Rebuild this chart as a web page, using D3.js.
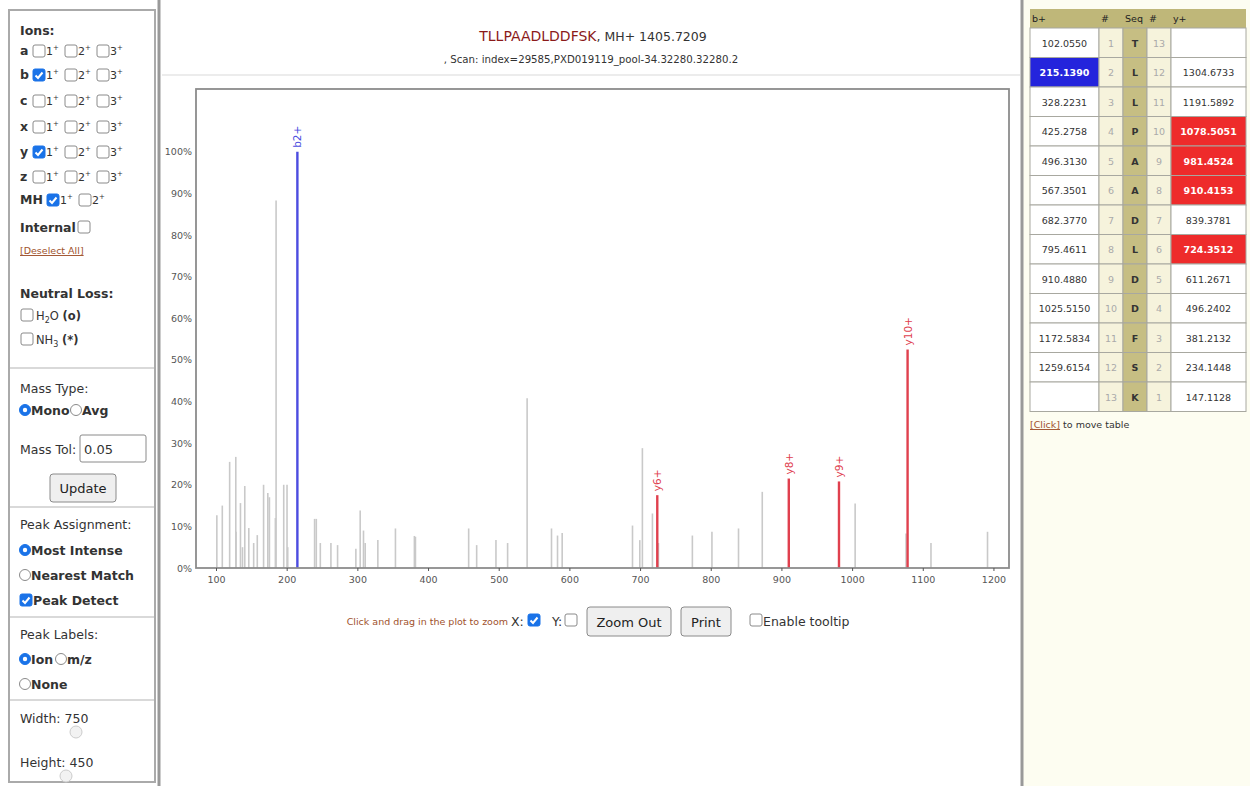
<!DOCTYPE html>
<html lang="en">
<head>
<meta charset="UTF-8">
<title>Lorikeet spectrum</title>
<script src="https://cdn.jsdelivr.net/npm/d3@7/dist/d3.min.js"></script>
<style>
  html, body { margin: 0; padding: 0; background: #fff; }
  svg { display: block; font-family: "DejaVu Sans", sans-serif; }
</style>
</head>
<body>
<svg id="page" width="1250" height="786"></svg>
<script>
// ---- data ----
const peptide = "TLLPAADLDDFSK";
const precursorMH = "1405.7209";
const scanInfo = ", Scan: index=29585,PXD019119_pool-34.32280.32280.2";

// unassigned peaks (m/z, relative intensity %)
const peakMz = [101.2, 108.9, 119.3, 128.0, 128.4, 134.6, 137.5, 140.7, 146.4, 153.3,
  158.4, 167.3, 173.3, 175.6, 184.0, 185.0, 195.8, 200.5, 201.5, 239.5,
  241.9, 247.6, 262.6, 272.0, 297.9, 304.0, 308.7, 311.1, 329.0, 353.9,
  380.7, 382.2, 457.5, 468.8, 496.1, 512.6, 540.2, 574.7, 583.2, 589.8,
  689.3, 699.6, 703.3, 717.5, 726.0, 774.0, 801.7, 839.3, 872.9, 1004.3,
  1076.3, 1111.6, 1191.6];
const peakInt = [12.7, 15.0, 25.5, 26.7, 8.7, 15.6, 5.0, 19.7, 9.6, 6.0,
  7.9, 20.0, 18.0, 17.0, 12.0, 88.3, 20.0, 20.0, 5.0, 11.8,
  11.8, 6.0, 6.0, 5.5, 4.6, 13.8, 9.0, 6.0, 6.7, 9.5,
  7.7, 7.5, 9.5, 5.5, 6.7, 6.0, 40.8, 9.5, 7.8, 8.4,
  10.2, 6.7, 28.8, 13.1, 6.0, 7.8, 8.7, 9.5, 18.3, 15.5,
  8.3, 6.0, 8.7];

// assigned fragment ions
const ionLabels = ["b2+", "y6+", "y8+", "y9+", "y10+"];
const ionTypes = ["b", "y", "y", "y", "y"];
const ionMz = [215.1390, 724.3512, 910.4153, 981.4524, 1078.5051];
const ionInt = [100, 17.5, 21.5, 20.8, 52.5];

const xTicks = [100, 200, 300, 400, 500, 600, 700, 800, 900, 1000, 1100, 1200];
const yTicks = [0, 10, 20, 30, 40, 50, 60, 70, 80, 90, 100];

// fragment table
const residues = peptide.split("");
const bIons = ["102.0550", "215.1390", "328.2231", "425.2758", "496.3130", "567.3501", "682.3770",
  "795.4611", "910.4880", "1025.5150", "1172.5834", "1259.6154", ""];
const yIons = ["", "1304.6733", "1191.5892", "1078.5051", "981.4524", "910.4153", "839.3781",
  "724.3512", "611.2671", "496.2402", "381.2132", "234.1448", "147.1128"];

const svg = d3.select("#page");

// ---- little form widgets ----
function checkbox(g, x, y, checked) {
  g.append("rect").attr("x", x).attr("y", y).attr("width", 12).attr("height", 12)
    .attr("rx", 2).attr("fill", checked ? "#1a73e8" : "#fff")
    .attr("stroke", checked ? "#1a73e8" : "#8a8a8a").attr("stroke-width", 1);
  if (checked) {
    g.append("path").attr("d", `M${x + 2.5},${y + 6.5} L${x + 5},${y + 9} L${x + 9.5},${y + 3.5}`)
      .attr("fill", "none").attr("stroke", "#fff").attr("stroke-width", 2);
  }
}
function radio(g, x, y, checked) {
  g.append("circle").attr("cx", x + 6).attr("cy", y + 6).attr("r", 5.5)
    .attr("fill", checked ? "#1a73e8" : "#fff")
    .attr("stroke", checked ? "#1a73e8" : "#8a8a8a");
  if (checked) g.append("circle").attr("cx", x + 6).attr("cy", y + 6).attr("r", 2.2).attr("fill", "#fff");
}
function label(g, x, y, txt, opts = {}) {
  return g.append("text").attr("x", x).attr("y", y)
    .attr("font-size", opts.size || 12.5)
    .attr("font-weight", opts.bold ? "bold" : "normal")
    .attr("fill", opts.color || "#333")
    .attr("text-anchor", opts.anchor || "start")
    .text(txt);
}
function button(g, x, y, w, h, txt) {
  g.append("rect").attr("x", x).attr("y", y).attr("width", w).attr("height", h)
    .attr("rx", 3).attr("fill", "#efefef").attr("stroke", "#8a8a8a");
  label(g, x + w / 2, y + h / 2 + 5, txt, { anchor: "middle", size: 13, color: "#222" });
}

// ---- left options panel ----
const left = svg.append("g");
left.append("rect").attr("x", 9).attr("y", 10).attr("width", 146).attr("height", 772)
  .attr("fill", "#fff").attr("stroke", "#aaa").attr("stroke-width", 2);
left.append("line").attr("x1", 159).attr("x2", 159).attr("y1", 0).attr("y2", 786)
  .attr("stroke", "#999").attr("stroke-width", 3);
[368, 507, 617, 700].forEach(y => {
  left.append("line").attr("x1", 10).attr("x2", 154).attr("y1", y).attr("y2", y)
    .attr("stroke", "#ccc").attr("stroke-width", 1.5);
});

label(left, 20, 35, "Ions:", { bold: true });
const ionRows = ["a", "b", "c", "x", "y", "z"];
const ionRowY = [50, 74, 100, 126, 151, 176];
const ionChecked = { b: 0, y: 0 };
ionRows.forEach((ion, i) => {
  const y = ionRowY[i];
  label(left, 20, y + 5, ion, { bold: true });
  [1, 2, 3].forEach((c, j) => {
    const bx = 33 + j * 32;
    checkbox(left, bx, y - 5, ionChecked[ion] === j);
    const t = label(left, bx + 13, y + 5, String(c), { size: 11 });
    t.append("tspan").attr("dy", -5).attr("font-size", 7).text("+");
  });
});
label(left, 20, 204, "MH", { bold: true });
[1, 2].forEach((c, j) => {
  const bx = 47 + j * 32;
  checkbox(left, bx, 194, j === 0);
  const t = label(left, bx + 13, 204, String(c), { size: 11 });
  t.append("tspan").attr("dy", -5).attr("font-size", 7).text("+");
});
label(left, 20, 232, "Internal", { bold: true });
checkbox(left, 78, 221, false);
label(left, 20, 254, "[Deselect All]", { size: 9.5, color: "#a0522d" })
  .attr("text-decoration", "underline");

label(left, 20, 298, "Neutral Loss:", { bold: true });
checkbox(left, 21, 309, false);
const h2o = label(left, 36, 320, "H", { size: 11.5 });
h2o.append("tspan").attr("dy", 3).attr("font-size", 8).text("2");
h2o.append("tspan").attr("dy", -3).text("O ");
h2o.append("tspan").attr("font-weight", "bold").text("(o)");
checkbox(left, 21, 333, false);
const nh3 = label(left, 36, 344, "NH", { size: 11.5 });
nh3.append("tspan").attr("dy", 3).attr("font-size", 8).text("3");
nh3.append("tspan").attr("dy", -3).text(" ");
nh3.append("tspan").attr("font-weight", "bold").text("(*)");

label(left, 20, 393, "Mass Type:");
radio(left, 19, 404, true);
label(left, 31, 415, "Mono", { bold: true });
radio(left, 70, 404, false);
label(left, 82, 415, "Avg", { bold: true });
label(left, 20, 454, "Mass Tol:");
left.append("rect").attr("x", 80).attr("y", 435).attr("width", 66).attr("height", 27)
  .attr("rx", 2).attr("fill", "#fff").attr("stroke", "#8a8a8a");
label(left, 84, 454, "0.05", { size: 13 });
button(left, 50, 474, 66, 28, "Update");

label(left, 20, 529, "Peak Assignment:");
radio(left, 19, 544, true);
label(left, 31, 555, "Most Intense", { bold: true });
radio(left, 19, 569, false);
label(left, 31, 580, "Nearest Match", { bold: true });
checkbox(left, 20, 594, true);
label(left, 33, 605, "Peak Detect", { bold: true });

label(left, 20, 639, "Peak Labels:");
radio(left, 19, 653, true);
label(left, 31, 664, "Ion", { bold: true });
radio(left, 55, 653, false);
label(left, 67, 664, "m/z", { bold: true });
radio(left, 19, 678, false);
label(left, 31, 689, "None", { bold: true });

label(left, 20, 723, "Width: 750");
left.append("circle").attr("cx", 76).attr("cy", 732).attr("r", 6).attr("fill", "#f2f2f2").attr("stroke", "#ccc");
label(left, 20, 767, "Height: 450");
left.append("circle").attr("cx", 66).attr("cy", 776).attr("r", 6).attr("fill", "#f2f2f2").attr("stroke", "#ccc");

// ---- title ----
const main = svg.append("g");
const title = main.append("text").attr("x", 593).attr("y", 41).attr("text-anchor", "middle").attr("font-size", 14);
title.append("tspan").attr("fill", "#8b1a1a").text(peptide);
title.append("tspan").attr("fill", "#333").attr("font-size", 12.5).text(", MH+ " + precursorMH);
main.append("text").attr("x", 591).attr("y", 63).attr("text-anchor", "middle")
  .attr("font-size", 10.2).attr("fill", "#333").text(scanInfo);
main.append("line").attr("x1", 162).attr("x2", 1020).attr("y1", 75).attr("y2", 75)
  .attr("stroke", "#e6e6e6").attr("stroke-width", 1.5);

// ---- spectrum plot ----
const plot = { left: 196, top: 89, right: 1009, bottom: 568 };
const x = d3.scaleLinear().domain([71.7, 1222]).range([plot.left, plot.right]);
const y = d3.scaleLinear().domain([0, 115.1]).range([plot.bottom, plot.top]);

const pg = main.append("g");
const grey = peakMz.map((m, i) => ({ mz: m, int: peakInt[i] }));
pg.selectAll("line.peak").data(grey).join("line")
  .attr("class", "peak")
  .attr("x1", d => x(d.mz)).attr("x2", d => x(d.mz))
  .attr("y1", y(0)).attr("y2", d => y(d.int))
  .attr("stroke", "#c9c9c9").attr("stroke-width", 1.6);

const ionColor = { b: "#4c4ce0", y: "#e0404e" };
const ions = ionMz.map((m, i) => ({ mz: m, int: ionInt[i], label: ionLabels[i], type: ionTypes[i] }));
pg.selectAll("line.ion").data(ions).join("line")
  .attr("class", "ion")
  .attr("x1", d => x(d.mz)).attr("x2", d => x(d.mz))
  .attr("y1", y(0)).attr("y2", d => y(d.int))
  .attr("stroke", d => ionColor[d.type]).attr("stroke-width", 2.4);
pg.selectAll("text.ion").data(ions).join("text")
  .attr("class", "ion")
  .attr("transform", d => `translate(${x(d.mz) + 4},${y(d.int) - 4}) rotate(-90)`)
  .attr("font-size", 10.5).attr("fill", d => ionColor[d.type])
  .text(d => d.label);

main.append("rect").attr("x", plot.left).attr("y", plot.top)
  .attr("width", plot.right - plot.left).attr("height", plot.bottom - plot.top)
  .attr("fill", "none").attr("stroke", "#8c8c8c").attr("stroke-width", 1.8);

const xAxis = main.append("g").attr("transform", `translate(0,${plot.bottom})`)
  .call(d3.axisBottom(x).tickValues(xTicks).tickSize(3).tickPadding(5).tickFormat(d3.format("d")));
const yAxis = main.append("g").attr("transform", `translate(${plot.left - 2},0)`)
  .call(d3.axisLeft(y).tickValues(yTicks).tickSize(0).tickPadding(2).tickFormat(d => d + "%"));
[xAxis, yAxis].forEach(a => {
  a.select(".domain").remove();
  a.selectAll("text").attr("fill", "#555").attr("font-size", 9.5)
    .attr("font-family", "DejaVu Sans, sans-serif");
  a.selectAll("line").attr("stroke", "#555");
});

// ---- zoom controls under the plot ----
label(main, 508, 625, "Click and drag in the plot to zoom", { size: 9.5, color: "#a0522d", anchor: "end" });
label(main, 511, 626, "X:", { size: 12.5 });
checkbox(main, 528, 614, true);
label(main, 552, 626, "Y:", { size: 12.5 });
checkbox(main, 565, 614, false);
button(main, 587, 607, 84, 29, "Zoom Out");
button(main, 681, 607, 50, 29, "Print");
checkbox(main, 750, 614, false);
label(main, 763, 626, "Enable tooltip", { size: 12.5 });

// ---- fragment ion table ----
const right = svg.append("g");
right.append("rect").attr("x", 1023).attr("y", 0).attr("width", 227).attr("height", 786).attr("fill", "#fdfdf1");
right.append("line").attr("x1", 1022).attr("x2", 1022).attr("y1", 0).attr("y2", 786)
  .attr("stroke", "#999").attr("stroke-width", 3);

const colX = [1030, 1099, 1123, 1147, 1171, 1246];
const headTop = 9, headH = 19, rowH = 29.5;
const rowTop = headTop + headH;
right.append("rect").attr("x", colX[0]).attr("y", headTop).attr("width", colX[5] - colX[0])
  .attr("height", headH).attr("fill", "#bfb779");
["b+", "#", "Seq", "#", "y+"].forEach((h, i) => {
  label(right, colX[i] + 2, headTop + 13, h, { size: 9.5, color: "#222" });
});
const yMatched = new Set(ions.filter(d => d.type === "y").map(d => d.mz.toFixed(4)));
const bMatched = new Set(ions.filter(d => d.type === "b").map(d => d.mz.toFixed(4)));
residues.forEach((aa, i) => {
  const top = rowTop + i * rowH;
  const cells = [
    { txt: bIons[i], bg: bMatched.has(bIons[i]) ? "#2424dc" : "#fff", fg: bMatched.has(bIons[i]) ? "#fff" : "#333", bold: bMatched.has(bIons[i]) },
    { txt: String(i + 1), bg: "#f6f3dc", fg: "#aaa" },
    { txt: aa, bg: "#c6be83", fg: "#333", bold: true },
    { txt: String(residues.length - i), bg: "#f6f3dc", fg: "#aaa" },
    { txt: yIons[i], bg: yMatched.has(yIons[i]) ? "#ee2b2b" : "#fff", fg: yMatched.has(yIons[i]) ? "#fff" : "#333", bold: yMatched.has(yIons[i]) }
  ];
  cells.forEach((c, j) => {
    right.append("rect").attr("x", colX[j]).attr("y", top)
      .attr("width", colX[j + 1] - colX[j]).attr("height", rowH)
      .attr("fill", c.bg).attr("stroke", "#a8a8a0").attr("stroke-width", 1);
    label(right, (colX[j] + colX[j + 1]) / 2, top + rowH / 2 + 4, c.txt,
      { size: 9.5, color: c.fg, anchor: "middle", bold: c.bold });
  });
});
const moveTxt = label(right, 1030, 428, "", { size: 9.5, color: "#333" });
moveTxt.append("tspan").attr("fill", "#a0522d").attr("text-decoration", "underline").text("[Click]");
moveTxt.append("tspan").text(" to move table");
</script>
</body>
</html>
